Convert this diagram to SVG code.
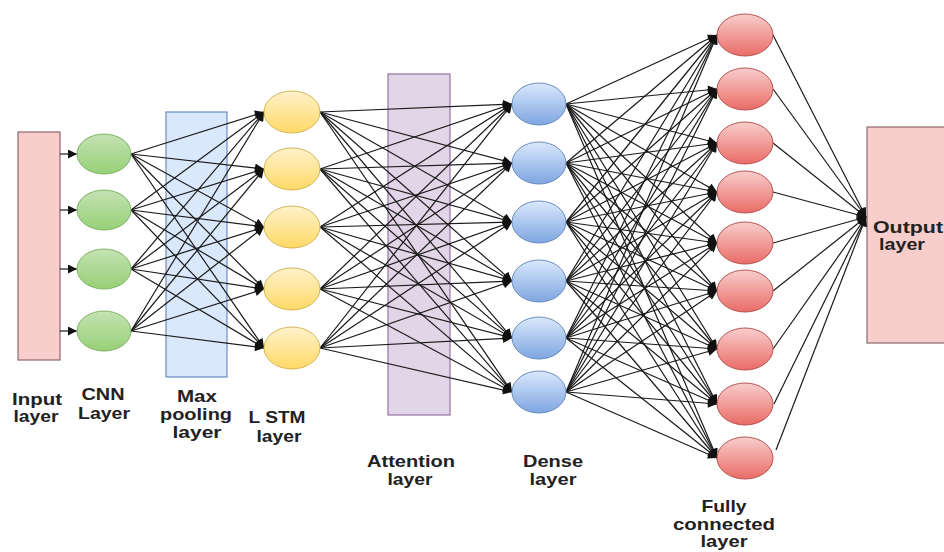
<svg xmlns="http://www.w3.org/2000/svg" width="944" height="552" viewBox="0 0 944 552">
<style>
.c line{stroke:#1a1a1a;stroke-width:1.2;marker-end:url(#ah)}
.lbl{font-family:"Liberation Sans",Arial,sans-serif;font-weight:bold;font-size:17px;fill:#222;text-anchor:middle}
.g{fill:url(#gG);stroke:#82b366;stroke-width:1}
.y{fill:url(#gY);stroke:#d6b656;stroke-width:1}
.b{fill:url(#gB);stroke:#6c8ebf;stroke-width:1}
.r{fill:url(#gR);stroke:#b85450;stroke-width:1}
</style>
<defs>
<marker id="ah" viewBox="0 0 10 10" refX="10" refY="5" markerWidth="10" markerHeight="9" markerUnits="userSpaceOnUse" orient="auto"><path d="M0,0 L10,5 L0,10 z" fill="#111"/></marker>
<linearGradient id="gG" x1="0" y1="0" x2="0" y2="1"><stop offset="0" stop-color="#c4e2b3"/><stop offset="1" stop-color="#97d077"/></linearGradient>
<linearGradient id="gY" x1="0" y1="0" x2="0" y2="1"><stop offset="0" stop-color="#fff2cc"/><stop offset="1" stop-color="#ffd966"/></linearGradient>
<linearGradient id="gB" x1="0" y1="0" x2="0" y2="1"><stop offset="0" stop-color="#dae8fc"/><stop offset="1" stop-color="#7ea6e0"/></linearGradient>
<linearGradient id="gR" x1="0" y1="0" x2="0" y2="1"><stop offset="0" stop-color="#f8cecc"/><stop offset="1" stop-color="#ea6b66"/></linearGradient>
</defs>
<rect width="944" height="552" fill="#fff"/>

<g id="input-layer"><rect x="18" y="132" width="42" height="228" fill="#f8cecc" stroke="#8c6a6a" stroke-width="1.2"/></g>
<g id="maxpool-layer"><rect x="166" y="112" width="61" height="265" fill="#dae8fc" stroke="#6c8ebf" stroke-width="1.2"/></g>
<g id="attention-layer"><rect x="388" y="74" width="62" height="341" fill="#e1d5e7" stroke="#9673a6" stroke-width="1.2"/></g>
<g id="output-layer"><rect x="867" y="127" width="80" height="216" fill="#f8cecc" stroke="#8c6a6a" stroke-width="1.2"/></g>

<g id="connectors" class="c">
<line x1="60" y1="154" x2="77" y2="154"/><line x1="60" y1="210" x2="77" y2="210"/><line x1="60" y1="269" x2="77" y2="269"/><line x1="60" y1="331" x2="77" y2="331"/>
<line x1="131" y1="154" x2="264" y2="112"/><line x1="131" y1="154" x2="264" y2="169"/><line x1="131" y1="154" x2="264" y2="227"/><line x1="131" y1="154" x2="264" y2="289"/><line x1="131" y1="154" x2="264" y2="348"/>
<line x1="131" y1="210" x2="264" y2="112"/><line x1="131" y1="210" x2="264" y2="169"/><line x1="131" y1="210" x2="264" y2="227"/><line x1="131" y1="210" x2="264" y2="289"/><line x1="131" y1="210" x2="264" y2="348"/>
<line x1="131" y1="269" x2="264" y2="112"/><line x1="131" y1="269" x2="264" y2="169"/><line x1="131" y1="269" x2="264" y2="227"/><line x1="131" y1="269" x2="264" y2="289"/><line x1="131" y1="269" x2="264" y2="348"/>
<line x1="131" y1="331" x2="264" y2="112"/><line x1="131" y1="331" x2="264" y2="169"/><line x1="131" y1="331" x2="264" y2="227"/><line x1="131" y1="331" x2="264" y2="289"/><line x1="131" y1="331" x2="264" y2="348"/>

<line x1="320" y1="112" x2="512" y2="104"/><line x1="320" y1="112" x2="512" y2="163"/><line x1="320" y1="112" x2="512" y2="222"/><line x1="320" y1="112" x2="512" y2="281"/><line x1="320" y1="112" x2="512" y2="338"/><line x1="320" y1="112" x2="512" y2="392"/>
<line x1="320" y1="169" x2="512" y2="104"/><line x1="320" y1="169" x2="512" y2="163"/><line x1="320" y1="169" x2="512" y2="222"/><line x1="320" y1="169" x2="512" y2="281"/><line x1="320" y1="169" x2="512" y2="338"/><line x1="320" y1="169" x2="512" y2="392"/>
<line x1="320" y1="227" x2="512" y2="104"/><line x1="320" y1="227" x2="512" y2="163"/><line x1="320" y1="227" x2="512" y2="222"/><line x1="320" y1="227" x2="512" y2="281"/><line x1="320" y1="227" x2="512" y2="338"/><line x1="320" y1="227" x2="512" y2="392"/>
<line x1="320" y1="289" x2="512" y2="104"/><line x1="320" y1="289" x2="512" y2="163"/><line x1="320" y1="289" x2="512" y2="222"/><line x1="320" y1="289" x2="512" y2="281"/><line x1="320" y1="289" x2="512" y2="338"/><line x1="320" y1="289" x2="512" y2="392"/>
<line x1="320" y1="348" x2="512" y2="104"/><line x1="320" y1="348" x2="512" y2="163"/><line x1="320" y1="348" x2="512" y2="222"/><line x1="320" y1="348" x2="512" y2="281"/><line x1="320" y1="348" x2="512" y2="338"/><line x1="320" y1="348" x2="512" y2="392"/>

<line x1="566" y1="104" x2="717" y2="35"/><line x1="566" y1="104" x2="717" y2="89"/><line x1="566" y1="104" x2="717" y2="143"/><line x1="566" y1="104" x2="717" y2="192"/><line x1="566" y1="104" x2="717" y2="243"/><line x1="566" y1="104" x2="717" y2="291"/><line x1="566" y1="104" x2="717" y2="349"/><line x1="566" y1="104" x2="717" y2="404"/><line x1="566" y1="104" x2="717" y2="458"/>
<line x1="566" y1="163" x2="717" y2="35"/><line x1="566" y1="163" x2="717" y2="89"/><line x1="566" y1="163" x2="717" y2="143"/><line x1="566" y1="163" x2="717" y2="192"/><line x1="566" y1="163" x2="717" y2="243"/><line x1="566" y1="163" x2="717" y2="291"/><line x1="566" y1="163" x2="717" y2="349"/><line x1="566" y1="163" x2="717" y2="404"/><line x1="566" y1="163" x2="717" y2="458"/>
<line x1="566" y1="222" x2="717" y2="35"/><line x1="566" y1="222" x2="717" y2="89"/><line x1="566" y1="222" x2="717" y2="143"/><line x1="566" y1="222" x2="717" y2="192"/><line x1="566" y1="222" x2="717" y2="243"/><line x1="566" y1="222" x2="717" y2="291"/><line x1="566" y1="222" x2="717" y2="349"/><line x1="566" y1="222" x2="717" y2="404"/><line x1="566" y1="222" x2="717" y2="458"/>
<line x1="566" y1="281" x2="717" y2="35"/><line x1="566" y1="281" x2="717" y2="89"/><line x1="566" y1="281" x2="717" y2="143"/><line x1="566" y1="281" x2="717" y2="192"/><line x1="566" y1="281" x2="717" y2="243"/><line x1="566" y1="281" x2="717" y2="291"/><line x1="566" y1="281" x2="717" y2="349"/><line x1="566" y1="281" x2="717" y2="404"/><line x1="566" y1="281" x2="717" y2="458"/>
<line x1="566" y1="338" x2="717" y2="35"/><line x1="566" y1="338" x2="717" y2="89"/><line x1="566" y1="338" x2="717" y2="143"/><line x1="566" y1="338" x2="717" y2="192"/><line x1="566" y1="338" x2="717" y2="243"/><line x1="566" y1="338" x2="717" y2="291"/><line x1="566" y1="338" x2="717" y2="349"/><line x1="566" y1="338" x2="717" y2="404"/><line x1="566" y1="338" x2="717" y2="458"/>
<line x1="566" y1="392" x2="717" y2="35"/><line x1="566" y1="392" x2="717" y2="89"/><line x1="566" y1="392" x2="717" y2="143"/><line x1="566" y1="392" x2="717" y2="192"/><line x1="566" y1="392" x2="717" y2="243"/><line x1="566" y1="392" x2="717" y2="291"/><line x1="566" y1="392" x2="717" y2="349"/><line x1="566" y1="392" x2="717" y2="404"/><line x1="566" y1="392" x2="717" y2="458"/>

<line x1="773" y1="35" x2="866" y2="217"/><line x1="773" y1="89" x2="866" y2="217"/><line x1="773" y1="143" x2="866" y2="217"/><line x1="773" y1="192" x2="866" y2="217"/><line x1="773" y1="243" x2="866" y2="217"/><line x1="773" y1="291" x2="866" y2="217"/><line x1="773" y1="349" x2="866" y2="217"/><line x1="774" y1="404" x2="866" y2="217"/><line x1="776" y1="450" x2="866" y2="217"/>
</g>

<g id="cnn-nodes">
<ellipse id="cnn1" class="g" cx="104" cy="154" rx="27" ry="20"/>
<ellipse id="cnn2" class="g" cx="104" cy="210" rx="27" ry="20"/>
<ellipse id="cnn3" class="g" cx="104" cy="269" rx="27" ry="20"/>
<ellipse id="cnn4" class="g" cx="104" cy="331" rx="27" ry="20"/>
</g>
<g id="lstm-nodes">
<ellipse id="lstm1" class="y" cx="292" cy="112" rx="28" ry="21"/>
<ellipse id="lstm2" class="y" cx="292" cy="169" rx="28" ry="21"/>
<ellipse id="lstm3" class="y" cx="292" cy="227" rx="28" ry="21"/>
<ellipse id="lstm4" class="y" cx="292" cy="289" rx="28" ry="21"/>
<ellipse id="lstm5" class="y" cx="292" cy="348" rx="28" ry="21"/>
</g>
<g id="dense-nodes">
<ellipse id="dense1" class="b" cx="539" cy="104" rx="27" ry="21"/>
<ellipse id="dense2" class="b" cx="539" cy="163" rx="27" ry="21"/>
<ellipse id="dense3" class="b" cx="539" cy="222" rx="27" ry="21"/>
<ellipse id="dense4" class="b" cx="539" cy="281" rx="27" ry="21"/>
<ellipse id="dense5" class="b" cx="539" cy="338" rx="27" ry="21"/>
<ellipse id="dense6" class="b" cx="539" cy="392" rx="27" ry="21"/>
</g>
<g id="fc-nodes">
<ellipse id="fc1" class="r" cx="745" cy="35" rx="28" ry="21"/>
<ellipse id="fc2" class="r" cx="745" cy="89" rx="28" ry="21"/>
<ellipse id="fc3" class="r" cx="745" cy="143" rx="28" ry="21"/>
<ellipse id="fc4" class="r" cx="745" cy="192" rx="28" ry="21"/>
<ellipse id="fc5" class="r" cx="745" cy="243" rx="28" ry="21"/>
<ellipse id="fc6" class="r" cx="745" cy="291" rx="28" ry="21"/>
<ellipse id="fc7" class="r" cx="745" cy="349" rx="28" ry="21"/>
<ellipse id="fc8" class="r" cx="745" cy="404" rx="28" ry="21"/>
<ellipse id="fc9" class="r" cx="745" cy="458" rx="28" ry="21"/>
</g>

<g id="labels">
<text class="lbl" x="37" y="405" textLength="50" lengthAdjust="spacingAndGlyphs">Input</text>
<text class="lbl" x="36" y="422" textLength="45" lengthAdjust="spacingAndGlyphs">layer</text>
<text class="lbl" x="103" y="400" textLength="43" lengthAdjust="spacingAndGlyphs">CNN</text>
<text class="lbl" x="104" y="419" textLength="52" lengthAdjust="spacingAndGlyphs">Layer</text>
<text class="lbl" x="197" y="402" textLength="40" lengthAdjust="spacingAndGlyphs">Max</text>
<text class="lbl" x="196" y="420" textLength="72" lengthAdjust="spacingAndGlyphs">pooling</text>
<text class="lbl" x="197" y="438" textLength="49" lengthAdjust="spacingAndGlyphs">layer</text>
<text class="lbl" x="277" y="423" textLength="57" lengthAdjust="spacingAndGlyphs">L STM</text>
<text class="lbl" x="279" y="442" textLength="45" lengthAdjust="spacingAndGlyphs">layer</text>
<text class="lbl" x="411" y="467" textLength="88" lengthAdjust="spacingAndGlyphs">Attention</text>
<text class="lbl" x="410" y="485" textLength="45" lengthAdjust="spacingAndGlyphs">layer</text>
<text class="lbl" x="553" y="467" textLength="60" lengthAdjust="spacingAndGlyphs">Dense</text>
<text class="lbl" x="553" y="485" textLength="47" lengthAdjust="spacingAndGlyphs">layer</text>
<text class="lbl" x="724" y="512" textLength="45" lengthAdjust="spacingAndGlyphs">Fully</text>
<text class="lbl" x="724" y="530" textLength="102" lengthAdjust="spacingAndGlyphs">connected</text>
<text class="lbl" x="724" y="547" textLength="47" lengthAdjust="spacingAndGlyphs">layer</text>
<text class="lbl" x="908" y="233" textLength="70" lengthAdjust="spacingAndGlyphs">Output</text>
<text class="lbl" x="902" y="250" textLength="46" lengthAdjust="spacingAndGlyphs">layer</text>
</g>
</svg>
